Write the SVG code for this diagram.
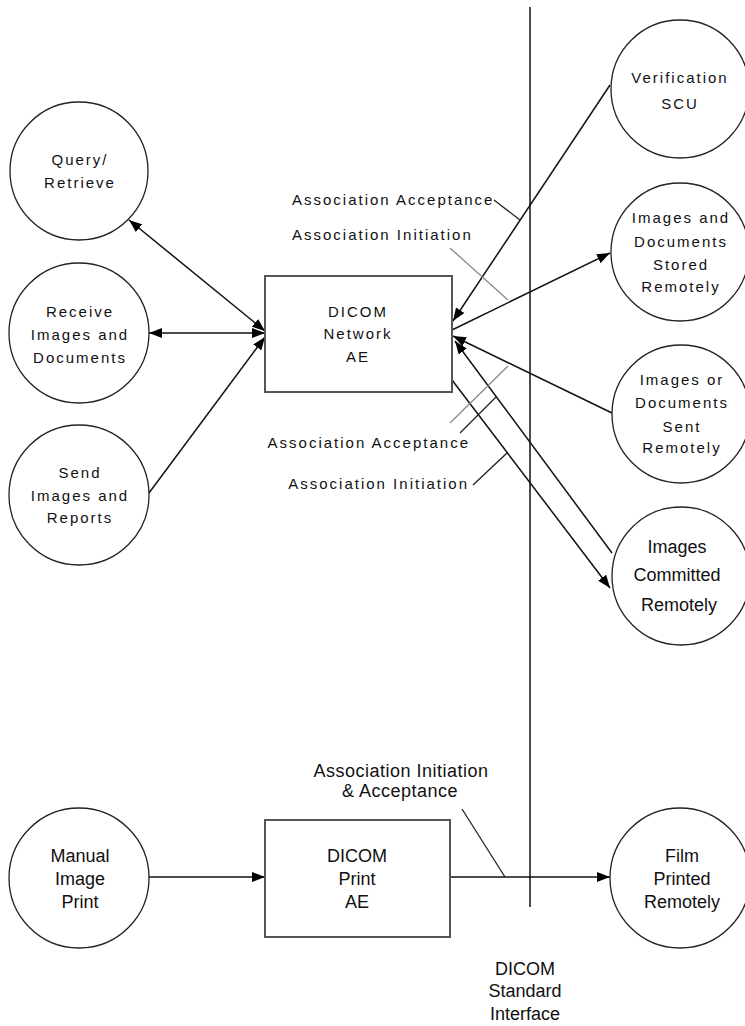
<svg xmlns="http://www.w3.org/2000/svg" width="745" height="1026" viewBox="0 0 745 1026">
<style>
.c{fill:#fff;stroke:#222;stroke-width:1.3}
.b{fill:#fff;stroke:#555;stroke-width:2}
.t{font-family:"Liberation Sans",Arial,sans-serif;font-size:15px;letter-spacing:2px;fill:#111;text-anchor:middle}
.u{font-family:"Liberation Sans",Arial,sans-serif;font-size:18px;fill:#111;text-anchor:middle}
.l{font-family:"Liberation Sans",Arial,sans-serif;font-size:15px;letter-spacing:2px;fill:#111}
.a{stroke:#111;stroke-width:1.5;fill:none}
.g{stroke:#888;stroke-width:1.3;fill:none}
.k{stroke:#222;stroke-width:1.3;fill:none}
</style>
<defs>
<marker id="ah" viewBox="0 0 13 10" refX="13" refY="5" markerWidth="13" markerHeight="10" markerUnits="userSpaceOnUse" orient="auto-start-reverse">
<path d="M0,0 L13,5 L0,10 Z" fill="#000"/>
</marker>
</defs>

<g id="connectors">
<line x1="530" y1="7" x2="530" y2="907" stroke="#111" stroke-width="1.5"/>
<line class="a" x1="129" y1="220" x2="265" y2="331" marker-start="url(#ah)" marker-end="url(#ah)"/>
<line class="a" x1="149" y1="333" x2="265" y2="333" stroke-width="2.2" marker-start="url(#ah)" marker-end="url(#ah)"/>
<line class="a" x1="149" y1="493" x2="265" y2="337" marker-end="url(#ah)"/>
<line class="a" x1="610" y1="85" x2="453" y2="321" stroke-width="2.2" marker-end="url(#ah)"/>
<line class="a" x1="452" y1="330" x2="610" y2="253" marker-end="url(#ah)"/>
<line class="a" x1="612" y1="413" x2="453" y2="336" marker-end="url(#ah)"/>
<line class="a" x1="612" y1="553" x2="455" y2="341" marker-end="url(#ah)"/>
<line class="a" x1="452" y1="380" x2="610" y2="588" marker-end="url(#ah)"/>
<line class="a" x1="148" y1="877" x2="265" y2="877" marker-end="url(#ah)"/>
<line class="a" x1="450" y1="877" x2="610" y2="877" marker-end="url(#ah)"/>
<line class="k" x1="494" y1="200" x2="520" y2="220"/>
<line class="g" x1="450" y1="248" x2="508" y2="300"/>
<line class="g" x1="450" y1="423" x2="508" y2="366"/>
<line class="k" x1="460" y1="433" x2="496" y2="397"/>
<line class="k" x1="473" y1="485" x2="507" y2="453"/>
<line class="k" x1="462" y1="809" x2="505" y2="877"/>
</g>

<g id="query">
<circle class="c" cx="79" cy="171" r="69"/>
<text class="t" x="80" y="165">Query/</text>
<text class="t" x="80" y="188">Retrieve</text>
</g>
<g id="receive">
<circle class="c" cx="79" cy="333" r="70"/>
<text class="t" x="80" y="317">Receive</text>
<text class="t" x="80" y="340">Images and</text>
<text class="t" x="80" y="363">Documents</text>
</g>
<g id="send">
<circle class="c" cx="79" cy="495" r="70"/>
<text class="t" x="80" y="478">Send</text>
<text class="t" x="80" y="501">Images and</text>
<text class="t" x="80" y="523">Reports</text>
</g>
<g id="network-ae">
<rect class="b" x="265" y="276" width="187" height="116"/>
<text class="t" x="358" y="317" letter-spacing="3.5">DICOM</text>
<text class="t" x="358" y="339">Network</text>
<text class="t" x="358" y="362">AE</text>
</g>
<g id="verification">
<circle class="c" cx="680" cy="89" r="69"/>
<text class="t" x="680" y="83">Verification</text>
<text class="t" x="680" y="109" font-size="12" letter-spacing="4">SCU</text>
</g>
<g id="stored">
<circle class="c" cx="680" cy="252" r="69"/>
<text class="t" x="681" y="223">Images and</text>
<text class="t" x="681" y="247">Documents</text>
<text class="t" x="681" y="270">Stored</text>
<text class="t" x="681" y="292">Remotely</text>
</g>
<g id="sent">
<circle class="c" cx="681" cy="414" r="69"/>
<text class="t" x="682" y="385">Images or</text>
<text class="t" x="682" y="408">Documents</text>
<text class="t" x="682" y="432">Sent</text>
<text class="t" x="682" y="453">Remotely</text>
</g>
<g id="committed">
<circle class="c" cx="681" cy="576" r="69"/>
<text class="u" x="677" y="553">Images</text>
<text class="u" x="677" y="581">Committed</text>
<text class="u" x="679" y="611">Remotely</text>
</g>
<g id="manual">
<circle class="c" cx="79" cy="878" r="70"/>
<text class="u" x="80" y="862">Manual</text>
<text class="u" x="80" y="885">Image</text>
<text class="u" x="80" y="908">Print</text>
</g>
<g id="print-ae">
<rect class="b" x="265" y="820" width="185" height="117" stroke="#333"/>
<text class="u" x="357" y="862">DICOM</text>
<text class="u" x="357" y="885">Print</text>
<text class="u" x="357" y="908">AE</text>
</g>
<g id="film">
<circle class="c" cx="680" cy="878" r="70"/>
<text class="u" x="682" y="862">Film</text>
<text class="u" x="682" y="885">Printed</text>
<text class="u" x="682" y="908">Remotely</text>
</g>

<g id="labels">
<text class="l" x="292" y="205">Association Acceptance</text>
<text class="l" x="292" y="240">Association Initiation</text>
<text class="l" x="470" y="448" text-anchor="end">Association Acceptance</text>
<text class="l" x="469" y="489" text-anchor="end">Association Initiation</text>
<text class="u" x="401" y="777" letter-spacing="0.5">Association Initiation</text>
<text class="u" x="400" y="797" letter-spacing="0.5">&amp; Acceptance</text>
<text class="u" x="525" y="975">DICOM</text>
<text class="u" x="525" y="997">Standard</text>
<text class="u" x="525" y="1020">Interface</text>
</g>
</svg>
